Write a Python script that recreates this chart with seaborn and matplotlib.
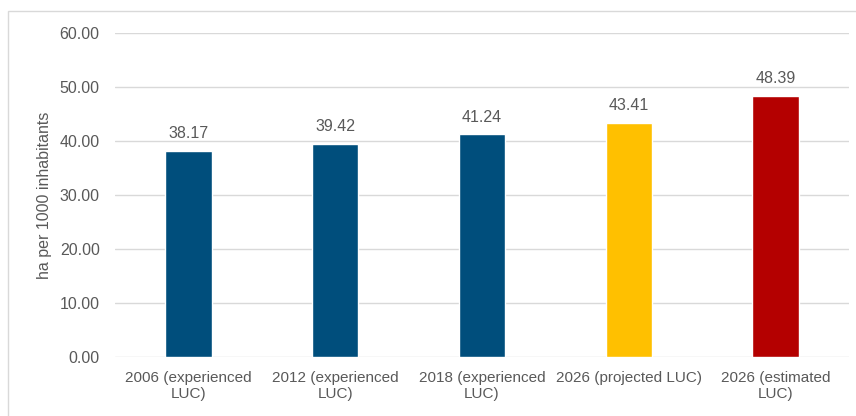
import matplotlib
matplotlib.use("Agg")
import matplotlib.pyplot as plt
import seaborn as sns
import pandas as pd
from matplotlib.patches import Rectangle

categories = ["2006 (experienced\nLUC)", "2012 (experienced\nLUC)", "2018 (experienced\nLUC)",
              "2026 (projected LUC)", "2026 (estimated\nLUC)"]
values = [38.17, 39.42, 41.24, 43.41, 48.39]
colors = ["#004E7C", "#004E7C", "#004E7C", "#FFC000", "#B40000"]
yticks = [0, 10, 20, 30, 40, 50, 60]
ylabel = "ha per 1000 inhabitants"

sns.set_style("white")
plt.rcParams['font.family'] = ['Liberation Sans', 'DejaVu Sans']
txt = "#595959"
fs = 11.5

df = pd.DataFrame({"cat": categories, "val": values})

fig = plt.figure(figsize=(8.56, 4.16), dpi=100)
ax = fig.add_axes([115/856, 1-357/416, (849-115)/856, (357-33)/416])

sns.barplot(data=df, x="cat", y="val", hue="cat", palette=colors, legend=False,
            width=0.315, ax=ax, saturation=1)

ax.set_ylim(0, 60)
ax.set_xlim(-0.5, len(categories)-0.5)
ax.set_yticks(yticks)
ax.set_yticklabels([f"{v:.2f}" for v in yticks])
ax.yaxis.grid(True, color="#D9D9D9", lw=1)
ax.set_axisbelow(True)
for s in ax.spines.values():
    s.set_visible(False)
ax.tick_params(axis="both", length=0, labelsize=fs, colors=txt)
ax.tick_params(axis="x", labelsize=11, pad=10)
ax.tick_params(axis="y", pad=11)
ax.set_xlabel("")
ax.set_ylabel("")
fig.text(45/856, 1-195/416, ylabel, rotation=90, ha="center", va="center", fontsize=fs, color=txt)

for c in ax.containers:
    ax.bar_label(c, fmt="%.2f", padding=7, fontsize=fs, color=txt)

fig.patches.append(Rectangle((8/856, -0.1), 1.2, 1-11/416+0.1, transform=fig.transFigure,
                             fill=False, edgecolor="#D9D9D9", lw=1))

fig.savefig("out.png", dpi=100, facecolor="white")
